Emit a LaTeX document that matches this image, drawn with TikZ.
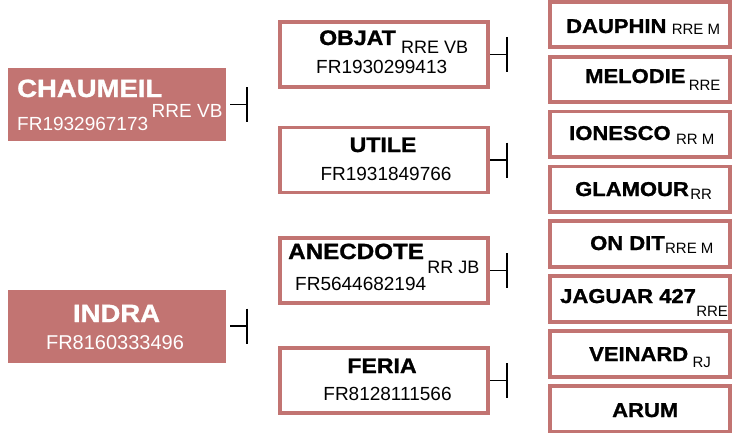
\documentclass[tikz,border=0pt]{standalone}
\usepackage{fontspec}
\setmainfont{Liberation Sans}
\newfontfamily\namefont{Liberation Sans}[FakeStretch=1.1, BoldFeatures={FakeBold=1.2}]
\usetikzlibrary{arrows.meta,positioning}
\definecolor{rose}{HTML}{C27472}
\tikzset{
  sbox/.style={rectangle, fill=rose, minimum width=218pt, minimum height=73pt, inner sep=0pt},
  wbox/.style={rectangle, draw=rose, line width=3.8pt, fill=white, minimum width=208.5pt, minimum height=65pt, inner sep=0pt},
  rbox/.style={rectangle, draw=rose, line width=3.8pt, fill=white, minimum width=180.5pt, minimum height=45.5pt, inner sep=0pt},
  bigname/.style={font=\namefont\bfseries\fontsize{25}{25}\selectfont, text=white, inner sep=0pt},
  midname/.style={font=\namefont\bfseries\fontsize{21}{21}\selectfont, inner sep=0pt},
  smname/.style={font=\namefont\bfseries\fontsize{20}{20}\selectfont, inner sep=0pt, anchor=base west},
  regno/.style={font=\fontsize{19}{19}\selectfont, inner sep=0pt},
  bigtag/.style={font=\fontsize{19}{19}\selectfont, inner sep=0pt, anchor=base west},
  midtag/.style={font=\fontsize{18}{18}\selectfont, inner sep=0pt, anchor=base west},
  smtag/.style={font=\fontsize{15}{15}\selectfont, inner sep=0pt, anchor=base west},
  tee/.style={-{Bar[width=35pt,line width=2pt]}, line width=1.6pt, black}
}
\begin{document}
\begin{tikzpicture}[x=1pt, y=-1pt, node distance=5.6pt]
\useasboundingbox (0,0) rectangle (736,436);
% parents
\node[sbox] (chaumeil) at (117,104.5) {};
\node[sbox] (indra) at (117,326) {};
\node[bigname, anchor=base west] (chaumeilN) at (17,97) {CHAUMEIL};
\node[bigtag, text=white] (chaumeilT) at ([shift={(-11,20)}]chaumeilN.base east) {RRE VB};
\node[regno, text=white, anchor=base west] (chaumeilR) at (17,130) {FR1932967173};
\node[bigname, anchor=base] (indraN) at (116.5,322) {INDRA};
\node[regno, text=white, anchor=base, font=\fontsize{20}{20}\selectfont] (indraR) at (115,349) {FR8160333496};
% grandparents
\node[wbox] (objat) at (384,54.5) {};
\node[wbox] (utile) at (384,160) {};
\node[wbox] (anecdote) at (384,270.5) {};
\node[wbox] (feria) at (384,380.5) {};
\node[midname, anchor=base west] (objatN) at (319,45) {OBJAT};
\node[midtag] (objatT) at ([shift={(5,9)}]objatN.base east) {RRE VB};
\node[regno, anchor=base west] (objatR) at (316,74) {FR1930299413};
\node[midname, anchor=base] (utileN) at (383,152) {UTILE};
\node[regno, anchor=base] (utileR) at (386,180) {FR1931849766};
\node[midname, anchor=base west, font=\namefont\bfseries\fontsize{22}{22}\selectfont] (anecdoteN) at (288,259) {ANECDOTE};
\node[midtag] (anecdoteT) at ([shift={(3,14)}]anecdoteN.base east) {RR JB};
\node[regno, anchor=base west] (anecdoteR) at (295,290) {FR5644682194};
\node[midname, anchor=base] (feriaN) at (382,373) {FERIA};
\node[regno, anchor=base] (feriaR) at (387.5,400) {FR8128111566};
% great-grandparents
\node[rbox] (dauphin) at (640,24.5) {};
\node[rbox, below=of dauphin] (melodie) {};
\node[rbox, below=of melodie] (ionesco) {};
\node[rbox, below=of ionesco] (glamour) {};
\node[rbox, below=of glamour] (ondit) {};
\node[rbox, below=of ondit] (jaguar) {};
\node[rbox, below=of jaguar] (veinard) {};
\node[rbox, below=of veinard] (arum) {};
\node[smname] (dauphinN) at (566,33) {DAUPHIN};
\node[smtag] (dauphinT) at ([shift={(5,2)}]dauphinN.base east) {RRE M};
\node[smname] (melodieN) at (585,83) {MELODIE};
\node[smtag] (melodieT) at ([shift={(3,7)}]melodieN.base east) {RRE};
\node[smname] (ionescoN) at (569,140) {IONESCO};
\node[smtag] (ionescoT) at ([shift={(5,4)}]ionescoN.base east) {RR M};
\node[smname] (glamourN) at (575,196) {GLAMOUR};
\node[smtag] (glamourT) at ([shift={(1,3)}]glamourN.base east) {RR};
\node[smname] (onditN) at (590,250) {ON DIT};
\node[smtag] (onditT) at ([shift={(0,3)}]onditN.base east) {RRE M};
\node[smname] (jaguarN) at (560,303) {JAGUAR 427};
\node[smtag] (jaguarT) at ([shift={(0,13)}]jaguarN.base east) {RRE};
\node[smname] (veinardN) at (589,361) {VEINARD};
\node[smtag] (veinardT) at ([shift={(4,6)}]veinardN.base east) {RJ};
\node[smname] (arumN) at (612,417) {ARUM};
% bars
\coordinate (chaumeilE) at (248,104.5);
\coordinate (indraE) at (248,326);
\coordinate (objatE) at (508,54.5);
\coordinate (utileE) at (508,160);
\coordinate (anecdoteE) at (508,270.5);
\coordinate (feriaE) at (508,380.5);
\draw[tee, shorten <=4pt] (chaumeil) -- (chaumeilE);
\draw[tee, shorten <=4pt] (indra) -- (indraE);
\draw[tee] (objat) -- (objatE);
\draw[tee] (utile) -- (utileE);
\draw[tee] (anecdote) -- (anecdoteE);
\draw[tee] (feria) -- (feriaE);
\end{tikzpicture}
\end{document}
